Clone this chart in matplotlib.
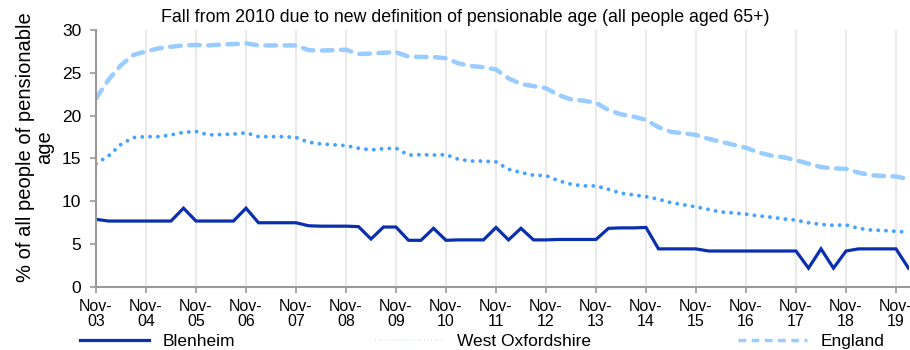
import matplotlib.pyplot as plt
from matplotlib.lines import Line2D

plt.rcParams['font.family'] = ['Liberation Sans', 'DejaVu Sans']

# quarterly series, Nov-03 to Feb-20
blenheim = [7.9, 7.7, 7.7, 7.7, 7.7, 7.7, 7.7, 9.2, 7.7, 7.7, 7.7, 7.7, 9.2, 7.5, 7.5, 7.5, 7.5,
            7.15, 7.1, 7.1, 7.1, 7.05, 5.6, 7.0, 7.0, 5.45, 5.45, 6.85, 5.45, 5.5, 5.5, 5.5, 6.95,
            5.5, 6.85, 5.5, 5.5, 5.55, 5.55, 5.55, 5.55, 6.85, 6.9, 6.9, 6.95, 4.45, 4.45, 4.45, 4.45,
            4.2, 4.2, 4.2, 4.2, 4.2, 4.2, 4.2, 4.2, 2.2, 4.45, 2.2, 4.2, 4.45, 4.45, 4.45, 4.45, 2.2]
west_oxon = [14.4, 15.3, 16.65, 17.45, 17.55, 17.55, 17.75, 18.05, 18.15, 17.75, 17.8, 17.85, 18.0,
             17.55, 17.55, 17.55, 17.45, 16.9, 16.7, 16.6, 16.5, 16.2, 16.0, 16.15, 16.2, 15.4, 15.45,
             15.4, 15.45, 14.9, 14.7, 14.7, 14.6, 13.75, 13.35, 13.05, 13.0, 12.4, 12.0, 11.8, 11.8,
             11.4, 10.95, 10.75, 10.55, 10.25, 9.85, 9.6, 9.35, 9.05, 8.75, 8.65, 8.5, 8.3, 8.15, 7.95,
             7.8, 7.5, 7.3, 7.2, 7.25, 6.85, 6.65, 6.6, 6.5, 6.4]
england = [22.0, 24.2, 25.9, 27.1, 27.5, 27.85, 28.05, 28.2, 28.25, 28.2, 28.3, 28.35, 28.45, 28.2,
           28.2, 28.2, 28.2, 27.65, 27.6, 27.65, 27.7, 27.2, 27.25, 27.35, 27.4, 26.9, 26.85, 26.85,
           26.7, 26.1, 25.8, 25.65, 25.4, 24.35, 23.7, 23.45, 23.2, 22.4, 21.9, 21.75, 21.5, 20.65,
           20.15, 19.9, 19.5, 18.65, 18.1, 17.95, 17.75, 17.3, 16.95, 16.6, 16.25, 15.7, 15.35, 15.15,
           14.8, 14.4, 14.0, 13.85, 13.8, 13.35, 13.05, 12.95, 12.9, 12.6]
tick_labels = ['Nov-\n%02d' % y for y in range(3, 20)]

x = list(range(len(blenheim)))

fig = plt.figure(figsize=(9.1, 3.5), dpi=100)
ax = fig.add_axes([96 / 910, 1 - 287 / 350, 812.5 / 910, 257 / 350])

ax.plot(x, england, color='#99ccff', lw=3.2, dashes=(2.4, 1.9),
        dash_capstyle='round', solid_capstyle='round')
ax.plot(x, west_oxon, color='#45a2ff', lw=2.8, dashes=(0.01, 2.0),
        dash_capstyle='round')
ax.plot(x, blenheim, color='#0a2fae', lw=2.3, solid_joinstyle='miter')

ax.set_xlim(0, len(x) - 1)
ax.set_ylim(0, 30)
ax.set_yticks(range(0, 31, 5))
ax.set_xticks(range(0, len(x), 4))
ax.set_xticklabels(tick_labels, fontsize=11.5, linespacing=1.0)
ax.tick_params(axis='y', labelsize=12.5, length=4.5, color='#999999', width=1.2, pad=6)
ax.tick_params(axis='x', length=4.5, color='#999999', width=1.2, pad=4)

ax.grid(axis='x', color='#e6e6e6', lw=1.2)
ax.set_axisbelow(True)
for s in ['top', 'right']:
    ax.spines[s].set_visible(False)
for s in ['left', 'bottom']:
    ax.spines[s].set_color('#999999')
    ax.spines[s].set_linewidth(1.5)

ax.set_ylabel('% of all people of pensionable\nage', fontsize=14.5, linespacing=0.95)
ax.yaxis.set_label_coords(-0.052, 0.545)
fig.text(0.511, 1 - 17 / 350, 'Fall from 2010 due to new definition of pensionable age (all people aged 65+)',
         fontsize=12.8, ha='center', va='center')

# one legend entry per position along the bottom
entries = [
    (Line2D([], [], color='#0a2fae', lw=2.3), 'Blenheim', 80),
    (Line2D([], [], color='#cfe5ff', lw=1.2, dashes=(0.6, 1.5)), 'West Oxfordshire', 375),
    (Line2D([], [], color='#99ccff', lw=2.5, dashes=(2.2, 1.6)), 'England', 738),
]
for h, lab, px in entries:
    fig.legend([h], [lab], frameon=False, loc='center left',
               bbox_to_anchor=(px / 910, 1 - 341 / 350), fontsize=12.5,
               handlelength=4.0, handletextpad=0.75, borderpad=0, borderaxespad=0)

fig.savefig('out.png', dpi=100)
